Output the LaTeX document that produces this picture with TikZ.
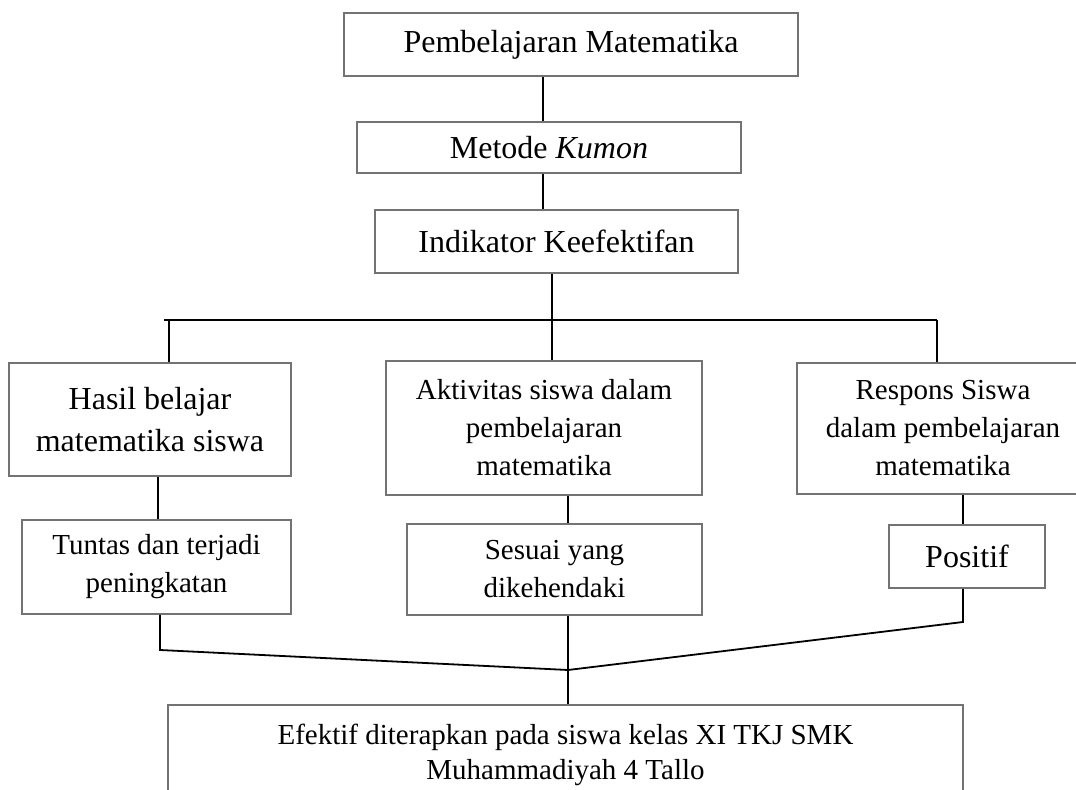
\documentclass[tikz,border=0pt]{standalone}
\usepackage{fontspec}
\setmainfont{Liberation Serif}
\usepackage{tikz}
\usetikzlibrary{positioning}

\tikzset{
    kotak/.style={draw=black!55, line width=0.9pt, align=center, inner sep=0pt,
        font=\fontsize{16}{21}\selectfont},
    kotakkecil/.style={kotak, font=\fontsize{14.5}{19}\selectfont},
    garis/.style={draw, black, line width=0.9pt}
}

\begin{document}
\begin{tikzpicture}[x=0.5pt, y=-0.5pt]
    \useasboundingbox (0,0) rectangle (1076,790);

    % kotak atas
    \node[kotak, minimum width=227pt, minimum height=31.5pt] (pembelajaran) at (571,44.5) {Pembelajaran Matematika};
    \node[kotak, minimum width=192pt, minimum height=25.5pt] (metode) at (549,147.5) {Metode \textit{Kumon}};
    \node[kotak, minimum width=181.5pt, minimum height=31.5pt] (indikator) at (556.5,241.5) {Indikator Keefektifan};

    % tiga indikator
    \node[kotak, minimum width=141pt, minimum height=56.5pt] (hasil) at (150,419.5) {Hasil belajar\\matematika siswa};
    \node[kotakkecil, minimum width=158pt, minimum height=67pt] (aktivitas) at (544,428) {Aktivitas siswa dalam\\pembelajaran\\matematika};
    \node[kotakkecil, minimum width=146pt, minimum height=65.5pt] (respons) at (943,428.5) {Respons Siswa\\dalam pembelajaran\\matematika};

    % kriteria
    \node[kotakkecil, minimum width=134.5pt, minimum height=47pt] (tuntas) at (156.5,567) {Tuntas dan terjadi\\peningkatan};
    \node[kotakkecil, minimum width=147.5pt, minimum height=45.5pt] (sesuai) at (554.5,569.5) {Sesuai yang\\dikehendaki};
    \node[kotak, minimum width=78pt, minimum height=31.5pt] (positif) at (967,556.5) {Positif};

    % kesimpulan
    \node[kotakkecil, font=\fontsize{14.5}{17.5}\selectfont, minimum width=397.5pt, minimum height=50pt] (efektif) at (565.5,755)
        {Efektif diterapkan pada siswa kelas XI TKJ SMK\\Muhammadiyah 4 Tallo};

    % titik bantu
    \coordinate (kiri) at (164,320);
    \coordinate (kanan) at (937,320);
    \coordinate (tekukkiri) at (160,650);
    \coordinate (tekukkanan) at (963,622);
    \coordinate (temu) at (568,670);

    % garis penghubung
    \draw[garis] ([xshift=-14pt]pembelajaran.south) -- ([xshift=-3pt]metode.north);
    \draw[garis] ([xshift=-3pt]metode.south) -- ([xshift=-6.75pt]indikator.north);
    \draw[garis] ([xshift=-2.25pt]indikator.south) -- ([xshift=4pt]aktivitas.north);
    \draw[garis] (kiri) -- (kanan);
    \draw[garis] ([xshift=9.5pt]hasil.north) |- (kiri);
    \draw[garis] ([xshift=-3pt]respons.north) |- (kanan);

    \draw[garis] ([xshift=4pt]hasil.south) -- ([xshift=0.75pt]tuntas.north);
    \draw[garis] ([xshift=12pt]aktivitas.south) -- ([xshift=6.75pt]sesuai.north);
    \draw[garis] ([xshift=10pt]respons.south) -- ([xshift=-2pt]positif.north);

    \draw[garis] ([xshift=1.75pt]tuntas.south) -- (tekukkiri) -- (temu);
    \draw[garis] ([xshift=-2pt]positif.south) -- (tekukkanan) -- (temu);
    \draw[garis] ([xshift=6.75pt]sesuai.south) -- ([xshift=1.25pt]efektif.north);
\end{tikzpicture}
\end{document}
